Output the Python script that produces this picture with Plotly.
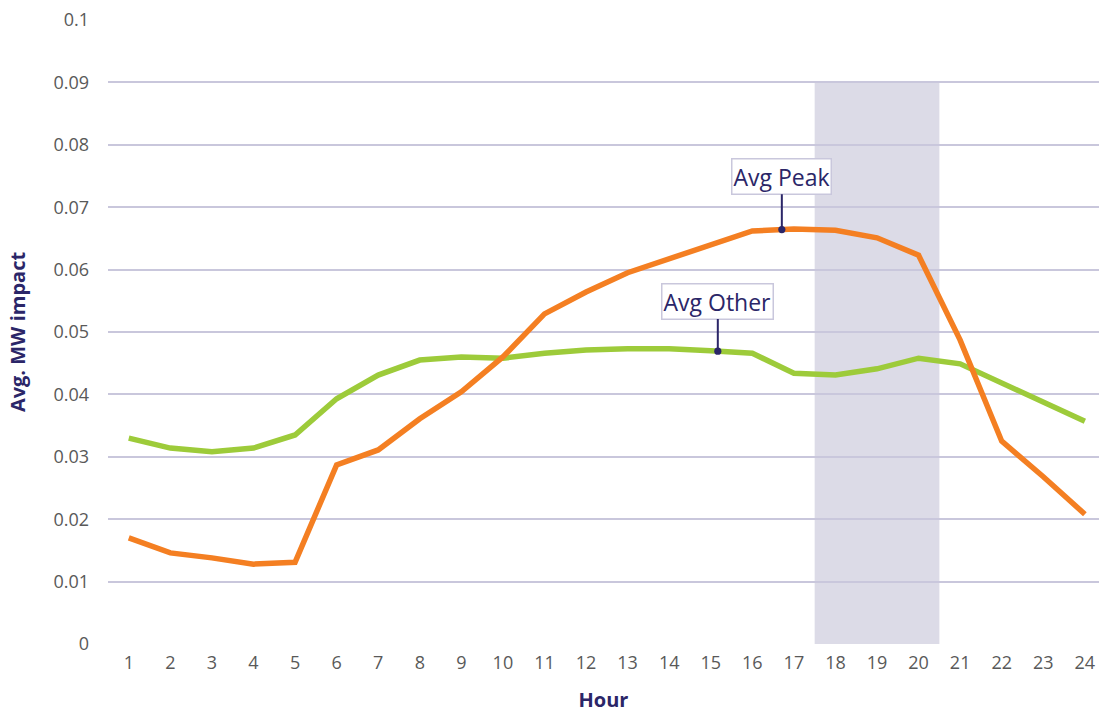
import numpy as np
import plotly.graph_objects as go

hours = list(range(1, 25))
avg_peak = [0.0170, 0.0146, 0.0138, 0.0128, 0.0131, 0.0287, 0.0311, 0.0361,
            0.0404, 0.0460, 0.0529, 0.0564, 0.0595, 0.0617, 0.0638, 0.0662,
            0.0665, 0.0663, 0.0651, 0.0623, 0.0487, 0.0325, 0.0268, 0.0208]
avg_other = [0.0330, 0.0314, 0.0308, 0.0314, 0.0335, 0.0393, 0.0431, 0.0455,
             0.0460, 0.0458, 0.0466, 0.0471, 0.0473, 0.0473, 0.0470, 0.0466,
             0.0434, 0.0431, 0.0441, 0.0458, 0.0449, 0.0418, 0.0386, 0.0357]
y_ticks = [0, 0.01, 0.02, 0.03, 0.04, 0.05, 0.06, 0.07, 0.08, 0.09, 0.1]
y_tick_text = ["0", "0.01", "0.02", "0.03", "0.04", "0.05", "0.06", "0.07", "0.08", "0.09", "0.1"]
peak_window = (17.5, 20.5, 0.09)

FONT = "Open Sans"
NAVY = "#2b2668"
GRID = "#c9c7dc"

fig = go.Figure()

# shaded peak-hours window
fig.add_shape(type="rect", xref="x", yref="y",
              x0=peak_window[0], x1=peak_window[1], y0=0, y1=peak_window[2],
              fillcolor="#dcdbe7", line_width=0, layer="below")

fig.add_trace(go.Scatter(x=hours, y=avg_other, mode="lines", name="Avg Other",
                         line=dict(color="#9dcb3a", width=5.5)))
fig.add_trace(go.Scatter(x=hours, y=avg_peak, mode="lines", name="Avg Peak",
                         line=dict(color="#f47f22", width=5.5)))

def callout(text, xpos, series, ay):
    fig.add_annotation(
        x=xpos, y=float(np.interp(xpos, hours, series)), xref="x", yref="y",
        text=text, showarrow=True, ax=0, ay=ay,
        arrowhead=6, arrowsize=0.9, arrowwidth=2, arrowcolor=NAVY,
        font=dict(family=FONT, size=23, color=NAVY),
        bgcolor="white", bordercolor="#c9c7dc", borderwidth=1.5, borderpad=1,
    )

callout("Avg Peak", 16.71, avg_peak, -53)
callout("Avg Other", 15.17, avg_other, -50)

fig.update_layout(
    width=1099, height=713,
    margin=dict(l=108, r=0, t=20, b=69),
    paper_bgcolor="white", plot_bgcolor="white",
    showlegend=False,
    font=dict(family=FONT, size=18, color="#595959"),
)
fig.update_xaxes(
    range=[0.5, 24.34], tickmode="array", tickvals=hours,
    ticktext=[str(h) for h in hours],
    showgrid=False, zeroline=False, showline=False, ticks="",
    ticklabelstandoff=6,
    title=dict(text="<b>Hour</b>", font=dict(family=FONT, size=20, color=NAVY), standoff=22),
)
fig.update_yaxes(
    range=[0, 0.1], tickmode="array", tickvals=y_ticks, ticktext=y_tick_text,
    showgrid=True, gridcolor=GRID, gridwidth=1.5, zeroline=False, showline=False, ticks="",
    ticklabelstandoff=18,
    title=dict(text="<b>Avg. MW impact</b>", font=dict(family=FONT, size=20, color=NAVY), standoff=22),
)

fig.write_html("out.html")
